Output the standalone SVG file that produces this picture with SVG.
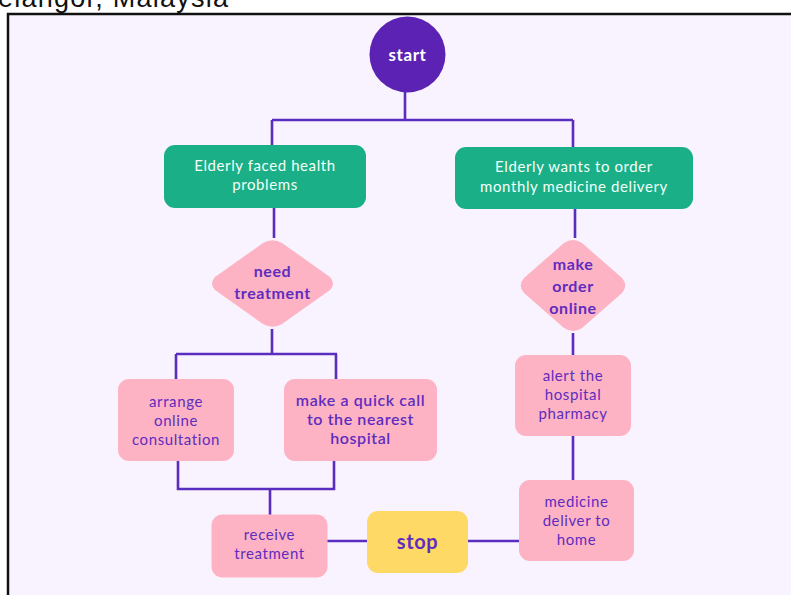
<svg xmlns="http://www.w3.org/2000/svg" width="791" height="595" viewBox="0 0 791 595">
<style>
.bg{fill:#F8F3FE;stroke:#111;stroke-width:2.5}
.green{fill:#1AAF87}
.pink{fill:#FDB3C3}
.yellow{fill:#FFD966}
.conn{fill:none;stroke:#5B2DBE;stroke-width:2.6}
.t{font-family:Lato,"Open Sans","Liberation Sans",sans-serif;font-size:15px;text-anchor:middle;letter-spacing:0.6px}
.w{fill:#F4FFF9}
.p{fill:#5F2CC0}
.b{font-weight:bold;font-size:16px}
</style>
<text x="-2" y="7" font-family="'Liberation Sans',sans-serif" font-size="27" fill="#111" textLength="230">elangor, Malaysia</text>
<rect class="bg" x="8" y="14" width="800" height="600"/>
<g id="connectors">
<path class="conn" d="M405 92V120M272 120H573M272 120V146M573 120V147"/>
<path class="conn" d="M274 208V238M272 329V354M176 354H337M176 354V380M336 354V380"/>
<path class="conn" d="M178 460V489H334V460M270 489V515"/>
<path class="conn" d="M327 541H368M467 541H519"/>
<path class="conn" d="M575 209V238M573 333V356M573 435V481"/>
</g>
<g id="start">
<circle cx="407.5" cy="54.5" r="38" fill="#5B22B3"/>
<text class="t b" x="407.5" y="60.5" fill="#fff" style="font-size:17px">start</text>
</g>
<g id="health">
<rect class="green" x="164" y="145" width="202" height="63" rx="11"/>
<text class="t w" x="265" y="171">Elderly faced health</text>
<text class="t w" x="265" y="190">problems</text>
</g>
<g id="order">
<rect class="green" x="455" y="147" width="238" height="62" rx="11"/>
<text class="t w" x="574" y="172">Elderly wants to order</text>
<text class="t w" x="574" y="192">monthly medicine delivery</text>
</g>
<g id="need">
<path class="pink" d="M263 243Q272.5 237.5 282 243L330 277Q336 283.5 330 290L282 324Q272.5 329.5 263 324L215 290Q209 283.5 215 277Z"/>
<text class="t b p" x="272.5" y="277">need</text>
<text class="t b p" x="272.5" y="299">treatment</text>
</g>
<g id="online">
<path class="pink" d="M564 243Q573 237 582 243L622 278Q628.5 285.5 622 293L582 328Q573 334 564 328L524 293Q517.5 285.5 524 278Z"/>
<text class="t b p" x="573" y="270">make</text>
<text class="t b p" x="573" y="292">order</text>
<text class="t b p" x="573" y="314">online</text>
</g>
<g id="arrange">
<rect class="pink" x="118" y="379" width="116" height="82" rx="11"/>
<text class="t p" x="176" y="407">arrange</text>
<text class="t p" x="176" y="426">online</text>
<text class="t p" x="176" y="445">consultation</text>
</g>
<g id="call">
<rect class="pink" x="284" y="379" width="153" height="82" rx="11"/>
<text class="t p" x="360.5" y="406" style="font-size:16px;font-weight:600">make a quick call</text>
<text class="t p" x="360.5" y="425" style="font-size:16px;font-weight:600">to the nearest</text>
<text class="t p" x="360.5" y="444" style="font-size:16px;font-weight:600">hospital</text>
</g>
<g id="alert">
<rect class="pink" x="515" y="355" width="116" height="81" rx="11"/>
<text class="t p" x="573" y="381">alert the</text>
<text class="t p" x="573" y="400">hospital</text>
<text class="t p" x="573" y="419">pharmacy</text>
</g>
<g id="deliver">
<rect class="pink" x="519" y="480" width="115" height="81" rx="11"/>
<text class="t p" x="576.5" y="507">medicine</text>
<text class="t p" x="576.5" y="526">deliver to</text>
<text class="t p" x="576.5" y="545">home</text>
</g>
<g id="receive">
<rect class="pink" x="211.5" y="514.5" width="116" height="63" rx="11"/>
<text class="t p" x="269.5" y="540">receive</text>
<text class="t p" x="269.5" y="559">treatment</text>
</g>
<g id="stop">
<rect class="yellow" x="367" y="511" width="101" height="62" rx="11"/>
<text class="t b p" x="417.5" y="549" style="font-size:20px">stop</text>
</g>
</svg>
